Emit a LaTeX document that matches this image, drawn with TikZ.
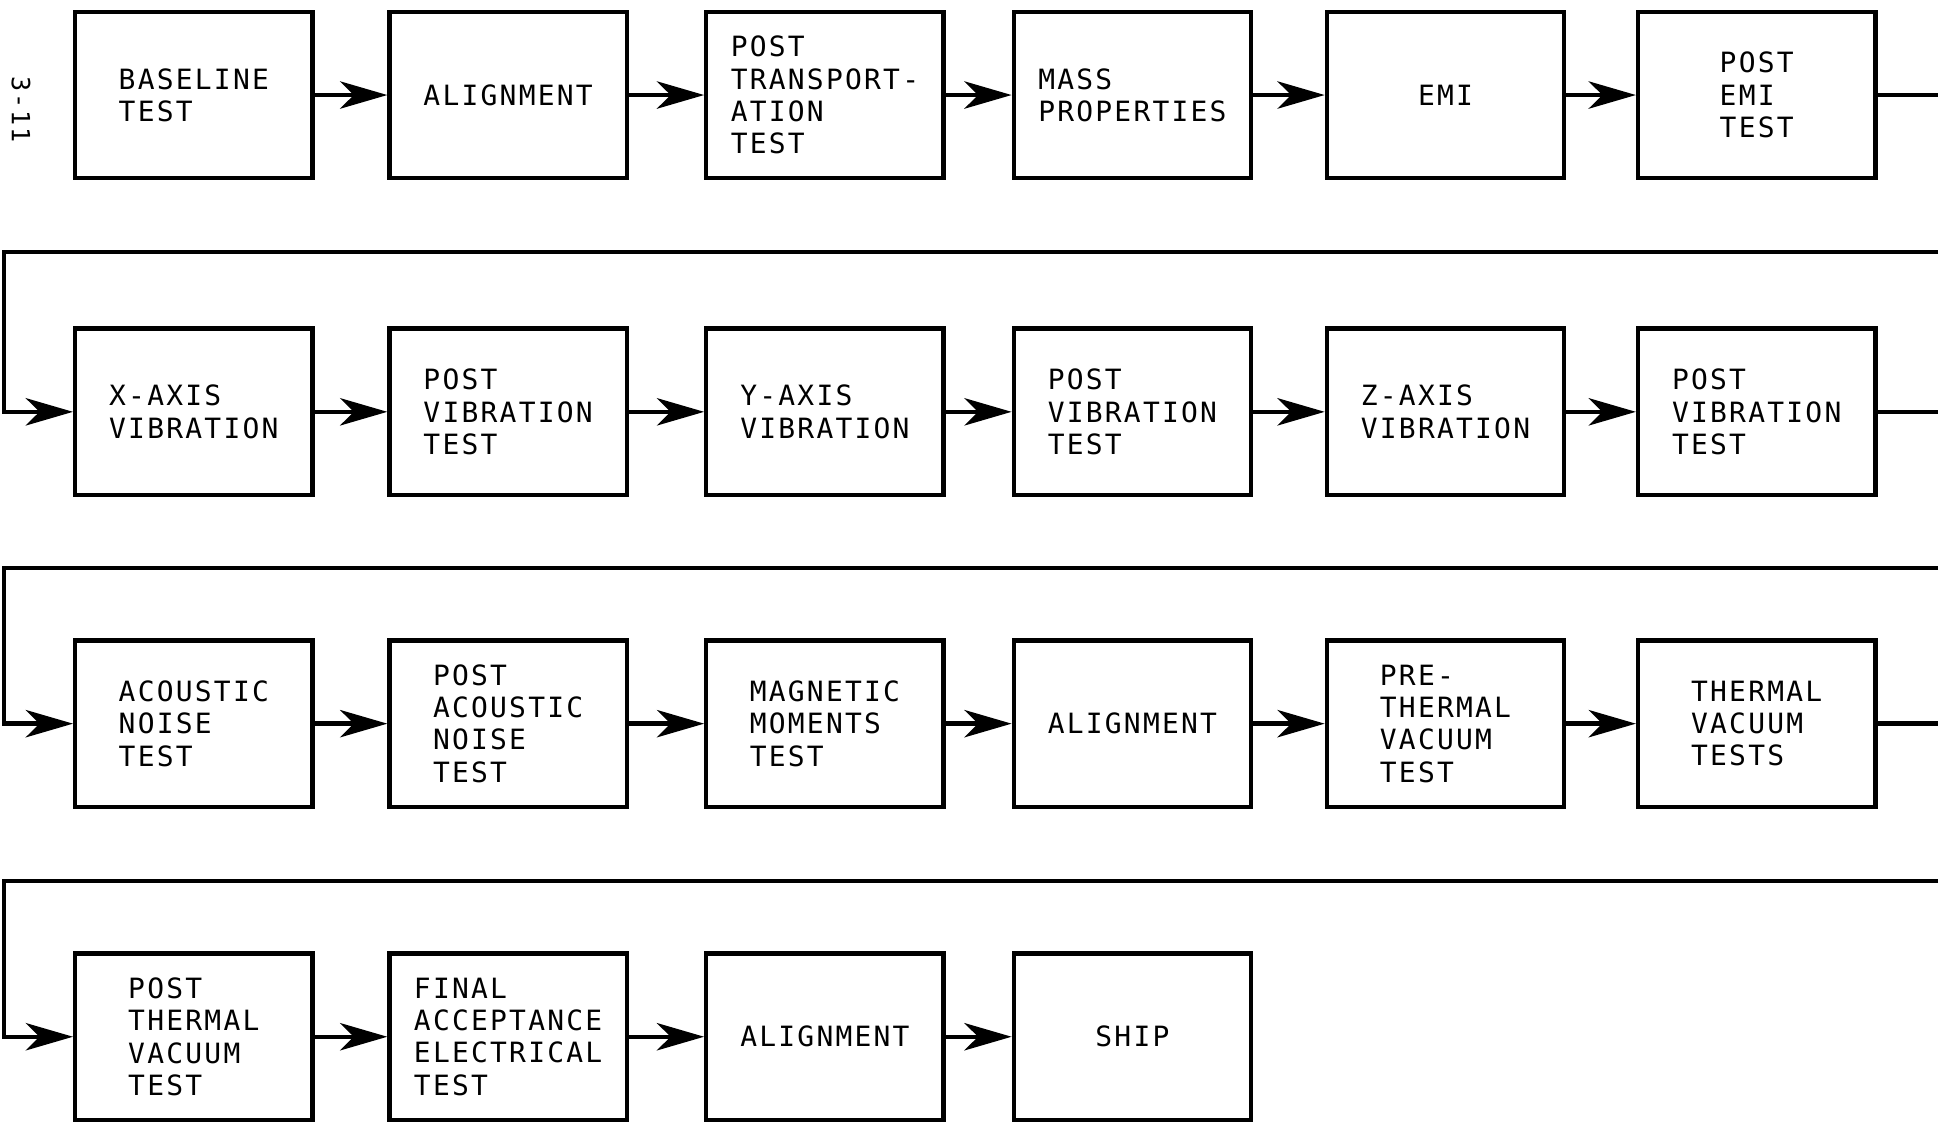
\documentclass[tikz,border=0pt]{standalone}
\usepackage{fontspec}
\usepackage{tikz}
\usetikzlibrary{positioning,arrows.meta}
\newfontfamily\leroyfont[LetterSpace=8]{DejaVu Sans Mono}
\tikzset{
  stage-box/.style={draw=black, line width=2pt, minimum width=3.82cm, minimum height=2.68cm,
    align=left, inner sep=2pt, font=\leroyfont\fontsize{12.8}{14.8}\selectfont},
  flow-arrow/.style={-{Stealth[length=7.6mm, width=4.4mm, inset=2.2mm]}, line width=2pt, draw=black},
  flow-line/.style={line width=2pt, draw=black},
  page-label/.style={font=\leroyfont\fontsize{11.5}{12}\selectfont, rotate=-90, inner sep=0pt}
}

\begin{document}
\begin{tikzpicture}[x=0.02cm, y=-0.02cm]
\useasboundingbox (0,0) rectangle (1568,905);
% page number down the left margin
\node[page-label] (page-no) at (17,88) {3-11};
% first row: baseline to post EMI
\node[stage-box] (baseline)       at (156,76.5)    {BASELINE\\TEST};
\node[stage-box] (align-a)        at (409,76.5)    {ALIGNMENT};
\node[stage-box] (post-transport) at (664,76.5)    {POST\\TRANSPORT-\\ATION\\TEST};
\node[stage-box] (mass-props)     at (911.5,76.5)  {MASS\\PROPERTIES};
\node[stage-box] (emi)            at (1163.5,76.5) {EMI};
\node[stage-box] (post-emi)       at (1414,76.5)   {POST\\EMI\\TEST};
% second row: the three vibration axes
\node[stage-box] (x-vib)          at (156,331.5)    {X-AXIS\\VIBRATION};
\node[stage-box] (post-x-vib)     at (409,331.5)    {POST\\VIBRATION\\TEST};
\node[stage-box] (y-vib)          at (664,331.5)    {Y-AXIS\\VIBRATION};
\node[stage-box] (post-y-vib)     at (911.5,331.5)  {POST\\VIBRATION\\TEST};
\node[stage-box] (z-vib)          at (1163.5,331.5) {Z-AXIS\\VIBRATION};
\node[stage-box] (post-z-vib)     at (1414,331.5)   {POST\\VIBRATION\\TEST};
% third row: acoustic, magnetic and thermal vacuum
\node[stage-box] (acoustic)       at (156,582.5)    {ACOUSTIC\\NOISE\\TEST};
\node[stage-box] (post-acoustic)  at (409,582.5)    {POST\\ACOUSTIC\\NOISE\\TEST};
\node[stage-box] (magnetic)       at (664,582.5)    {MAGNETIC\\MOMENTS\\TEST};
\node[stage-box] (align-b)        at (911.5,582.5)  {ALIGNMENT};
\node[stage-box] (pre-thermal)    at (1163.5,582.5) {PRE-\\THERMAL\\VACUUM\\TEST};
\node[stage-box] (thermal-vac)    at (1414,582.5)   {THERMAL\\VACUUM\\TESTS};
% last row: down to shipping
\node[stage-box] (post-thermal)   at (156,834.5)    {POST\\THERMAL\\VACUUM\\TEST};
\node[stage-box] (final-accept)   at (409,834.5)    {FINAL\\ACCEPTANCE\\ELECTRICAL\\TEST};
\node[stage-box] (align-c)        at (664,834.5)    {ALIGNMENT};
\node[stage-box] (ship)           at (911.5,834.5)  {SHIP};
% arrows along each row
\draw[flow-arrow] (baseline) -- (align-a);
\draw[flow-arrow] (align-a) -- (post-transport);
\draw[flow-arrow] (post-transport) -- (mass-props);
\draw[flow-arrow] (mass-props) -- (emi);
\draw[flow-arrow] (emi) -- (post-emi);
\draw[flow-arrow] (x-vib) -- (post-x-vib);
\draw[flow-arrow] (post-x-vib) -- (y-vib);
\draw[flow-arrow] (y-vib) -- (post-y-vib);
\draw[flow-arrow] (post-y-vib) -- (z-vib);
\draw[flow-arrow] (z-vib) -- (post-z-vib);
\draw[flow-arrow] (acoustic) -- (post-acoustic);
\draw[flow-arrow] (post-acoustic) -- (magnetic);
\draw[flow-arrow] (magnetic) -- (align-b);
\draw[flow-arrow] (align-b) -- (pre-thermal);
\draw[flow-arrow] (pre-thermal) -- (thermal-vac);
\draw[flow-arrow] (post-thermal) -- (final-accept);
\draw[flow-arrow] (final-accept) -- (align-c);
\draw[flow-arrow] (align-c) -- (ship);
% row ends run off the right edge, returns come back along the left edge
\coordinate (edge-r) at (1560,0);
\coordinate (return-a) at (1560,203);
\coordinate (return-b) at (1560,457);
\coordinate (return-c) at (1560,709);
\draw[flow-line] (post-emi.east) -- (post-emi.east -| edge-r);
\draw[flow-line] (post-z-vib.east) -- (post-z-vib.east -| edge-r);
\draw[flow-line] (thermal-vac.east) -- (thermal-vac.east -| edge-r);
\draw[flow-arrow] (return-a) -- (3,203) |- (x-vib.west);
\draw[flow-arrow] (return-b) -- (3,457) |- (acoustic.west);
\draw[flow-arrow] (return-c) -- (3,709) |- (post-thermal.west);
\end{tikzpicture}
\end{document}
